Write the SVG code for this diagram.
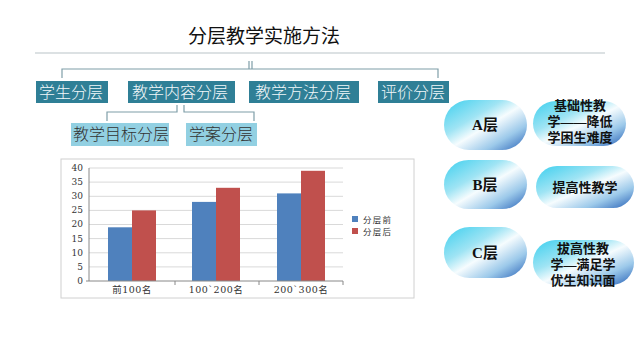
<svg xmlns="http://www.w3.org/2000/svg" width="640" height="360" viewBox="0 0 640 360">
<defs>
<linearGradient id="gloss" x1="0" y1="0" x2="1" y2="1">
<stop offset="0" stop-color="#3ccfee"/>
<stop offset="0.35" stop-color="#9fe4f4"/>
<stop offset="0.52" stop-color="#f6fcfe"/>
<stop offset="0.75" stop-color="#9cc9ea"/>
<stop offset="1" stop-color="#2660b6"/>
</linearGradient>
<style>
.title{font-family:"Liberation Serif","Noto Sans CJK SC",serif;font-size:19px;fill:#111}
.l1{fill:#2f7f96}
.l1t{font-family:"Noto Sans CJK SC",sans-serif;font-size:16px;fill:#f2f8fa;font-weight:300}
.l2{fill:#92d0e2}
.l2t{font-family:"Noto Sans CJK SC",sans-serif;font-size:16px;fill:#333;font-weight:300}
.conn{fill:none;stroke:#7f9ea8;stroke-width:1.2}
.pill{fill:url(#gloss)}
.pt{font-family:"Liberation Serif","Noto Sans CJK SC",serif;font-size:15px;fill:#111;font-weight:bold;text-anchor:middle}
.ps{font-family:"Liberation Serif","Noto Sans CJK SC",serif;font-size:13px;fill:#111;font-weight:bold;text-anchor:middle}
.grid{stroke:#d9d9d9;stroke-width:1}
.ax{stroke:#888;stroke-width:1}
.tick{font-family:"DejaVu Serif","Noto Sans CJK SC",serif;font-size:9px;fill:#333;text-anchor:end}
.cat{font-family:"DejaVu Serif","Noto Sans CJK SC",serif;font-size:9.5px;fill:#333;text-anchor:middle;letter-spacing:0.5px}
.leg{font-family:"Noto Sans CJK SC",sans-serif;font-size:8.5px;fill:#333;letter-spacing:1.3px}
.b{fill:#4f81bd}
.r{fill:#c0504d}
</style>
</defs>
<rect width="640" height="360" fill="#fff"/>

<text class="title" x="188" y="43">分层教学实施方法</text>
<line x1="35" y1="53" x2="605" y2="53" stroke="#b9c4c8" stroke-width="1.2"/>

<g id="connectors">
<path class="conn" d="M249 61V69M252 61V69M62 78V69H438V78"/>
<path class="conn" d="M177 105V112H107V121M184 105V112H254V121"/>
</g>

<g id="n-xuesheng"><rect class="l1" x="36" y="81" width="72" height="22"/><text class="l1t" x="39" y="98">学生分层</text></g>
<g id="n-neirong"><rect class="l1" x="128" y="81" width="107" height="22"/><text class="l1t" x="132" y="98">教学内容分层</text></g>
<g id="n-fangfa"><rect class="l1" x="249" y="81" width="110" height="22"/><text class="l1t" x="255" y="98">教学方法分层</text></g>
<g id="n-pingjia"><rect class="l1" x="378" y="81" width="71" height="22"/><text class="l1t" x="381" y="98">评价分层</text></g>
<g id="n-mubiao"><rect class="l2" x="71" y="123" width="98" height="23"/><text class="l2t" x="73" y="140">教学目标分层</text></g>
<g id="n-xuean"><rect class="l2" x="186" y="123" width="71" height="23"/><text class="l2t" x="189" y="140">学案分层</text></g>

<g id="chart">
<rect x="61" y="159" width="353" height="139" fill="#fff" stroke="#d0d0d0" stroke-width="1"/>
<g>
<line class="grid" x1="89" y1="168" x2="343" y2="168"/>
<line class="grid" x1="89" y1="182.1" x2="343" y2="182.1"/>
<line class="grid" x1="89" y1="196.3" x2="343" y2="196.3"/>
<line class="grid" x1="89" y1="210.4" x2="343" y2="210.4"/>
<line class="grid" x1="89" y1="224.5" x2="343" y2="224.5"/>
<line class="grid" x1="89" y1="238.6" x2="343" y2="238.6"/>
<line class="grid" x1="89" y1="252.8" x2="343" y2="252.8"/>
<line class="grid" x1="89" y1="266.9" x2="343" y2="266.9"/>
</g>
<rect class="b" x="108" y="227.3" width="24" height="53.7"/>
<rect class="r" x="132" y="210.4" width="24" height="70.6"/>
<rect class="b" x="192" y="201.9" width="24" height="79.1"/>
<rect class="r" x="216" y="187.8" width="24" height="93.2"/>
<rect class="b" x="277" y="193.4" width="24" height="87.6"/>
<rect class="r" x="301" y="170.8" width="24" height="110.2"/>
<path class="ax" d="M89 168V281M86 281H343M175 281V285M259 281V285M343 281V285"/>
<text class="tick" x="83" y="171">40</text>
<text class="tick" x="83" y="185">35</text>
<text class="tick" x="83" y="199">30</text>
<text class="tick" x="83" y="213">25</text>
<text class="tick" x="83" y="227">20</text>
<text class="tick" x="83" y="242">15</text>
<text class="tick" x="83" y="256">10</text>
<text class="tick" x="83" y="270">5</text>
<text class="tick" x="83" y="284">0</text>
<text class="cat" x="132" y="293">前100名</text>
<text class="cat" x="216" y="293">100`200名</text>
<text class="cat" x="301" y="293">200`300名</text>
<rect class="b" x="352" y="216" width="6" height="6"/>
<text class="leg" x="363" y="222.5">分层前</text>
<rect class="r" x="352" y="228" width="6" height="6"/>
<text class="leg" x="363" y="234.5">分层后</text>
</g>

<g id="n-a"><rect class="pill" x="444" y="100" width="83" height="50" rx="25"/><text class="pt" x="485" y="130">A层</text></g>
<g id="n-a2"><rect class="pill" x="533" y="101" width="93" height="45" rx="22.5"/>
<text class="ps" x="580" y="110">基础性教</text><text class="ps" x="580" y="126">学——降低</text><text class="ps" x="580" y="142">学困生难度</text></g>
<g id="n-b"><rect class="pill" x="444" y="160" width="83" height="49" rx="24.5"/><text class="pt" x="485" y="190">B层</text></g>
<g id="n-b2"><rect class="pill" x="536" y="166" width="98" height="42" rx="21"/><text class="ps" x="585" y="192">提高性教学</text></g>
<g id="n-c"><rect class="pill" x="444" y="227" width="83" height="51" rx="25.5"/><text class="pt" x="485" y="258">C层</text></g>
<g id="n-c2"><rect class="pill" x="533" y="240" width="101" height="45" rx="22.5"/>
<text class="ps" x="583" y="253">拔高性教</text><text class="ps" x="583" y="269">学—满足学</text><text class="ps" x="583" y="285">优生知识面</text></g>
</svg>
